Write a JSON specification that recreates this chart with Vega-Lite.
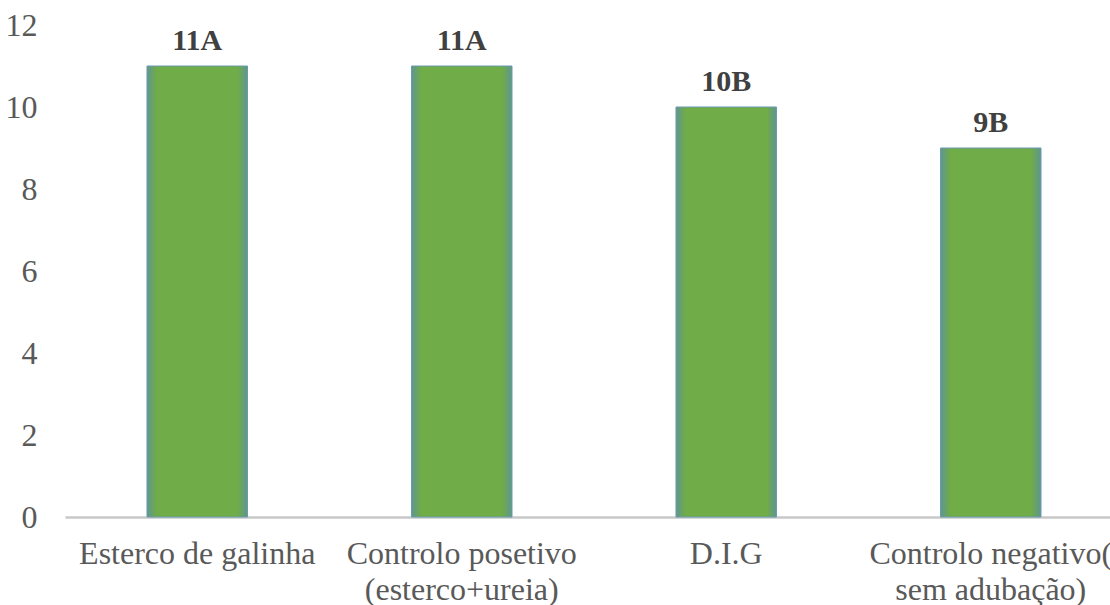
{
  "$schema": "https://vega.github.io/schema/vega-lite/v6.json",
  "autosize": "none",
  "width": 1058,
  "height": 492,
  "padding": {"left": 65, "top": 25, "right": 0, "bottom": 88},
  "background": "white",
  "config": {"view": {"stroke": null}},
  "data": {
    "values": [
      {"tratamento": "Esterco de galinha", "valor": 11, "rotulo": "11A"},
      {"tratamento": "Controlo posetivo|(esterco+ureia)", "valor": 11, "rotulo": "11A"},
      {"tratamento": "D.I.G", "valor": 10, "rotulo": "10B"},
      {"tratamento": "Controlo negativo(|sem adubação)", "valor": 9, "rotulo": "9B"}
    ]
  },
  "encoding": {
    "x": {
      "field": "tratamento",
      "type": "nominal",
      "sort": null,
      "scale": {"paddingInner": 0.62, "paddingOuter": 0.31},
      "axis": {
        "title": null,
        "labelAngle": 0,
        "labelExpr": "split(datum.label, '|')",
        "labelFont": "Liberation Serif",
        "labelFontSize": 32,
        "labelColor": "#595959",
        "labelLineHeight": 36,
        "labelPadding": 21,
        "labelBaseline": "top",
        "labelOverlap": false,
        "labelBound": false,
        "labelLimit": 0,
        "ticks": false,
        "domainColor": "#c8c8c8",
        "domainWidth": 2.5,
        "grid": false
      }
    },
    "y": {
      "field": "valor",
      "type": "quantitative",
      "scale": {"domain": [0, 12], "nice": false},
      "axis": {
        "title": null,
        "values": [0, 2, 4, 6, 8, 10, 12],
        "labelFont": "Liberation Serif",
        "labelFontSize": 32,
        "labelColor": "#595959",
        "labelPadding": 28,
        "labelBound": false,
        "ticks": false,
        "domain": false,
        "grid": false
      }
    }
  },
  "layer": [
    {
      "mark": {
        "type": "bar",
        "color": {
          "gradient": "linear",
          "x1": 0, "y1": 0, "x2": 1, "y2": 0,
          "stops": [
            {"offset": 0, "color": "#5f968f"},
            {"offset": 0.1, "color": "#70ac47"},
            {"offset": 0.9, "color": "#70ac47"},
            {"offset": 1, "color": "#5f968f"}
          ]
        },
        "stroke": "#6a9ab0",
        "strokeWidth": 1
      }
    },
    {
      "mark": {
        "type": "text",
        "dy": -16,
        "baseline": "alphabetic",
        "font": "Liberation Serif",
        "fontSize": 30,
        "fontWeight": "bold",
        "color": "#404040"
      },
      "encoding": {"text": {"field": "rotulo"}}
    }
  ]
}
